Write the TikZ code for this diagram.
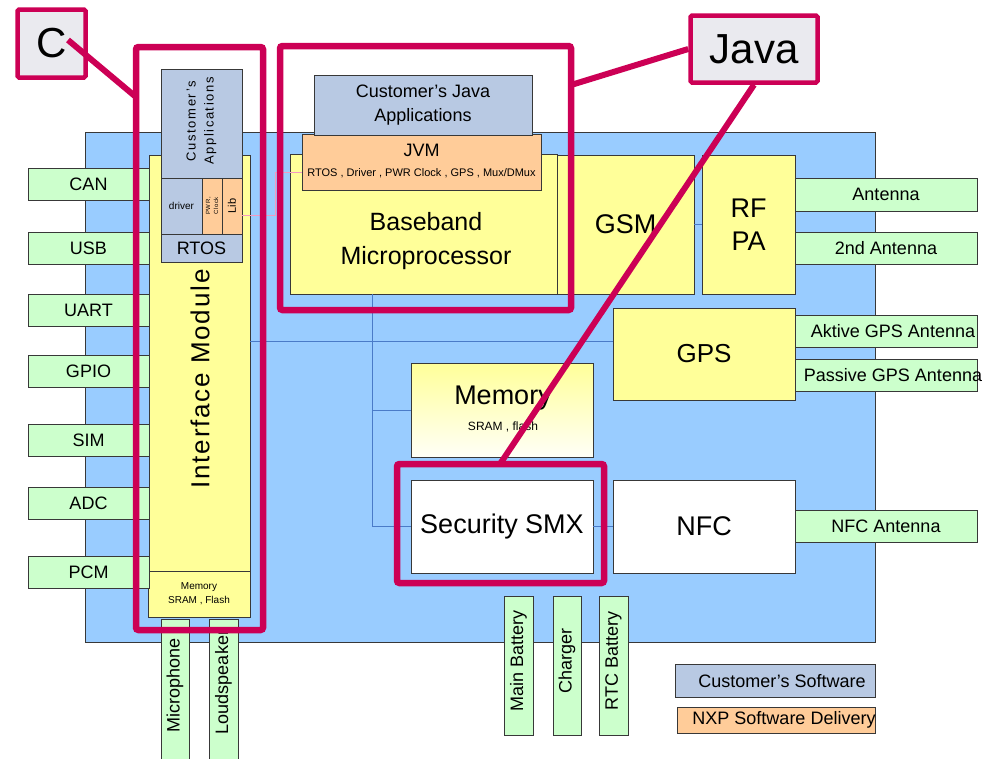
\documentclass[tikz,border=0pt]{standalone}
\usepackage{fontspec}
\setmainfont{Liberation Sans}
\newfontfamily\spacedfont{Liberation Sans}[LetterSpace=12]
\newfontfamily\ifmfont{Liberation Sans}[LetterSpace=7]
\newcommand\fsz[2]{\fontsize{#1}{#2}\selectfont}
\definecolor{bgblue}{HTML}{99CCFF}
\definecolor{yel}{HTML}{FFFF99}
\definecolor{grn}{HTML}{CCFFCC}
\definecolor{org}{HTML}{FFCC99}
\definecolor{sblue}{HTML}{B8C9E3}
\definecolor{mag}{HTML}{CC0055}
\definecolor{lblg}{HTML}{EAEAEF}
\definecolor{busc}{HTML}{4A7BC8}
\definecolor{pinkc}{HTML}{F49AC1}
\definecolor{edgec}{HTML}{383838}
\begin{document}
\begin{tikzpicture}[x=1pt,y=-1pt,
 bx/.style={draw=edgec,line width=0.8pt,inner sep=0pt,align=center,text=black},
 wh/.style 2 args={minimum width=#1pt,minimum height=#2pt},
 tx/.style={inner sep=0pt,align=center,text=black},
 frame/.style={draw=mag,line width=6.5pt,rounded corners=2.5pt,inner sep=0pt},
 call/.style={draw=mag,line width=6pt},
 lab/.style={draw=mag,line width=4.5pt,fill=lblg,rounded corners=1.5pt,inner sep=0pt},
 bus/.style={draw=busc,line width=0.8pt},
 pk/.style={draw=pinkc,line width=0.8pt},
 gbox/.style={bx,fill=grn,font=\fsz{18}{21}},
 ybox/.style={bx,fill=yel},
 big/.style={font=\fsz{27}{32}},
]
\useasboundingbox (0,0) rectangle (998,758);

% background board
\node[bx,fill=bgblue,wh={790}{510}] (bg) at (480,387) {};

% helper coordinates
\coordinate (busx) at (372,0);
\coordinate (busy) at (0,341);
\coordinate (pkA) at (275,215);
\coordinate (pkB) at (275,172);

% interface module column
\node[ybox,wh={101}{416}] (ifm) at (199.5,363) {};
\node[tx,rotate=90,font=\ifmfont\fsz{26}{30}] (ifmt) at (200,379) {Interface Module};
\node[ybox,wh={102}{46},font=\fsz{10}{14}] (ifmem) at (199,594) {Memory\\SRAM , Flash};
\node[bx,fill=sblue,wh={81}{109}] (capps) at (201.5,123.5) {};
\node[tx,rotate=90,font=\spacedfont\fsz{13}{18}] (cappst) at (201.5,121) {Customer’s\\Applications};
\node[bx,fill=sblue,wh={41}{56},font=\fsz{10}{12}] (drv) at (181.5,206) {driver};
\node[bx,fill=org,wh={20}{56}] (pwr) at (212,206) {};
\node[tx,rotate=90,font=\spacedfont\fsz{6}{8}] (pwrt) at (212,206) {PWR,\\Clock};
\node[bx,fill=org,wh={20}{56}] (lib) at (232,206) {};
\node[tx,rotate=90,font=\fsz{11}{13}] (libt) at (232,206) {Lib};
\node[bx,fill=sblue,wh={81}{28},font=\fsz{18}{21}] (rtos) at (201.5,248) {RTOS};

% left interfaces
\node[gbox,wh={121}{32}] (can)  at (88.5,184.5) {CAN};
\node[gbox,wh={121}{32}] (usb)  at (88.5,248) {USB};
\node[gbox,wh={121}{32}] (uart) at (88.5,310) {UART};
\node[gbox,wh={121}{32}] (gpio) at (88.5,371) {GPIO};
\node[gbox,wh={121}{32}] (sim)  at (88.5,440) {SIM};
\node[gbox,wh={121}{32}] (adc)  at (88.5,503) {ADC};
\node[gbox,wh={121}{32}] (pcm)  at (88.5,572) {PCM};

% bottom peripherals
\node[gbox,wh={28}{143}] (mic) at (175,690.5) {};
\node[tx,rotate=90,font=\fsz{18}{21}] (mict) at (175,685) {Microphone};
\node[gbox,wh={29}{143}] (spk) at (223.5,690.5) {};
\node[tx,rotate=90,font=\fsz{18}{21}] (spkt) at (223.5,682) {Loudspeaker};
\node[gbox,wh={29}{139}] (mbat) at (518.5,665.5) {};
\node[tx,rotate=90,font=\fsz{18}{21}] (mbatt) at (518.5,661) {Main Battery};
\node[gbox,wh={28}{139}] (chg) at (567,665.5) {};
\node[tx,rotate=90,font=\fsz{18}{21}] (chgt) at (567,661) {Charger};
\node[gbox,wh={29}{139}] (rtc) at (613.5,665.5) {};
\node[tx,rotate=90,font=\fsz{18}{21}] (rtct) at (613.5,661) {RTC Battery};

% pink link from Lib
\draw[pk] (lib.east |- pkA) -- (pkA) -- (pkB) -- (302,172);

% baseband and java stack
\node[ybox,wh={267}{140}] (bb) at (423.5,224) {};
\node[tx,font=\fsz{25}{34}] (bbt) at (426,241) {Baseband\\Microprocessor};
\node[ybox,wh={137}{139},big] (gsm) at (625.5,224.5) {GSM};
\node[ybox,wh={93}{139},font=\fsz{27}{33}] (rfpa) at (748.5,224.5) {RF\\PA};
\node[bx,fill=org,wh={239}{56}] (jvm) at (421.5,162) {};
\node[tx,font=\fsz{18}{21}] (jvmt) at (421.5,150) {JVM};
\node[tx,font=\fsz{11}{13}] (jvms) at (421.5,173) {RTOS , Driver , PWR Clock , GPS , Mux/DMux};
\node[bx,fill=sblue,wh={218}{60},font=\fsz{18}{24}] (cjava) at (423,105) {Customer’s Java\\Applications};
\draw[pk] (pkB) -- (jvm.west |- pkB);

% antennas
\node[gbox,wh={182}{33}] (ant)  at (886,194.5) {Antenna};
\node[gbox,wh={182}{32}] (ant2) at (886,248) {2nd Antenna};

% GPS
\node[ybox,wh={182}{92},font=\fsz{26}{30}] (gps) at (704,354) {GPS};
\node[gbox,wh={182}{32}] (agps) at (886,331) {};
\node[tx,font=\fsz{18}{21}] (agpst) at (893,331) {Aktive GPS Antenna};
\node[gbox,wh={182}{32}] (pgps) at (886,375) {};
\node[tx,font=\fsz{18}{21}] (pgpst) at (893,375) {Passive GPS Antenna};

% memory, security, nfc
\node[bx,top color=yel,bottom color=yel!8,wh={182}{94}] (mem) at (502,410) {};
\node[tx,font=\fsz{27}{30}] (memt) at (503,398) {Memory};
\node[tx,font=\fsz{12}{14}] (mems) at (503,427) {SRAM , flash};
\node[bx,fill=white,wh={182}{93},big] (sec) at (502,526.5) {Security SMX};
\node[bx,fill=white,wh={182}{93},big] (nfc) at (704,526.5) {NFC};
\node[gbox,wh={182}{32}] (nfca) at (886,526) {NFC Antenna};

% thin bus connectors
\draw[bus] (bb.south -| busx) -- (sec.west -| busx) -- (sec.west);
\draw[bus] (mem.west -| busx) -- (mem.west);
\draw[bus] (ifm.east |- busy) -- (gps.west |- busy);
\draw[bus] (sec.east) -- (nfc.west);
\draw[bus] (gsm.east) -- (rfpa.west);

% legend
\node[bx,fill=sblue,wh={200}{33}] (lcs) at (775,680.5) {};
\node[tx,font=\fsz{18}{21}] (lcst) at (782,681) {Customer’s Software};
\node[bx,fill=org,wh={198}{26}] (lnxp) at (776,720) {};
\node[tx,font=\fsz{18}{21}] (lnxpt) at (784,720) {NXP Software Delivery};

% magenta frames and callouts
\node[frame,wh={127}{583}] (Cframe) at (199.5,338.5) {};
\node[frame,wh={291}{264}] (Jframe) at (425.5,178) {};
\node[frame,wh={207}{119}] (Sframe) at (500.5,523.5) {};
\node[lab,wh={68}{68},font=\fsz{42}{46}] (Clab) at (51.5,43.5) {C};
\node[lab,wh={127}{67},font=\fsz{42}{46}] (Jlab) at (754,49) {Java};
\coordinate (cA) at (68,40);
\coordinate (cB) at (136,97);
\coordinate (jA) at (571,85);
\coordinate (jB) at (500,464);
\draw[call] (cA) -- (cB);
\draw[call] (Jlab.west) -- (jA);
\draw[call] (Jlab.south) -- (jB);
\end{tikzpicture}
\end{document}
